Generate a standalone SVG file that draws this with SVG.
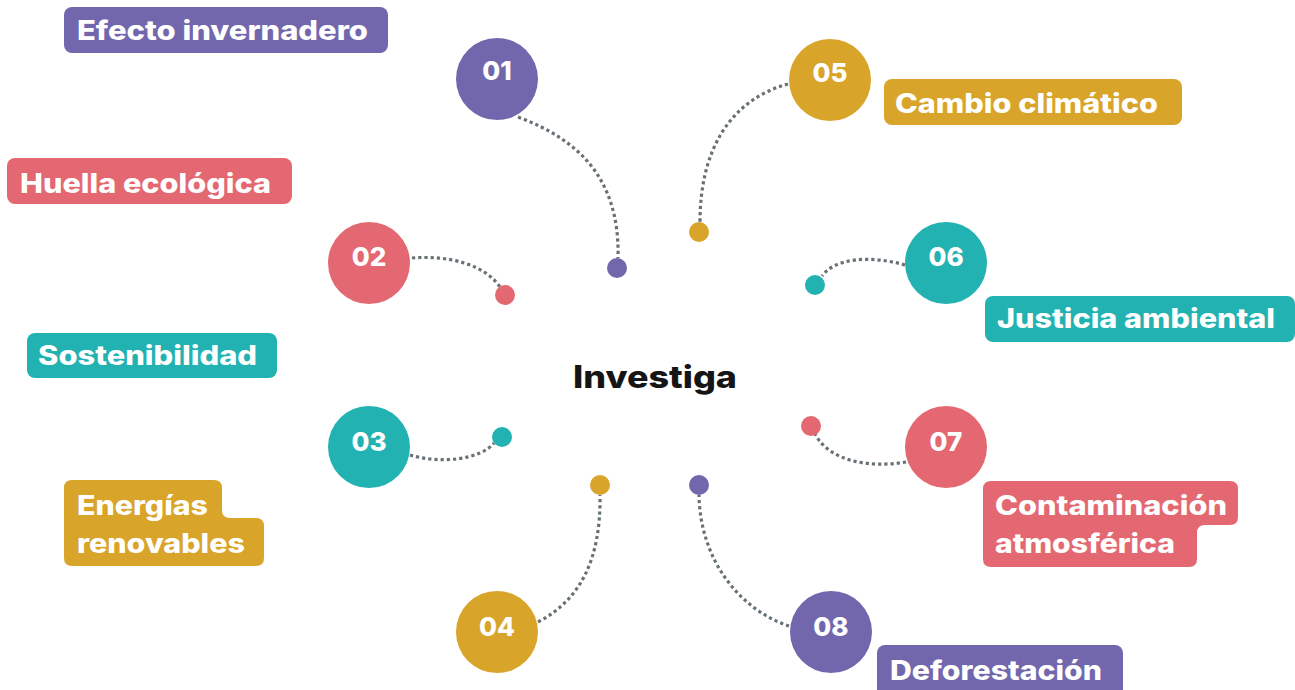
<svg xmlns="http://www.w3.org/2000/svg" width="1295" height="690" viewBox="0 0 1295 690">
<defs>
<style>
.purple{fill:#7267ad}
.red{fill:#e46871}
.teal{fill:#22b2b1}
.gold{fill:#d9a42a}
.lbl{font-family:Inter,"Open Sans","Liberation Sans",sans-serif;font-weight:800;font-size:26.5px;fill:#fff}
.num{font-family:Inter,"Open Sans","Liberation Sans",sans-serif;font-weight:800;font-size:26px;fill:#fff;text-anchor:middle}
.center{font-family:Inter,"Open Sans","Liberation Sans",sans-serif;font-weight:800;font-size:31px;fill:#151515}
.conn{fill:none;stroke:#687276;stroke-width:3.2;stroke-dasharray:3.2 3}
</style>
</defs>
<rect width="1295" height="690" fill="#fff"/>
<g id="connectors">
<path class="conn" d="M518,117 C580,140 620,180 618,258"/>
<path class="conn" d="M788,84 C730,100 700,150 700,222"/>
<path class="conn" d="M412,258 C450,255 485,265 500,287"/>
<path class="conn" d="M410,455 C440,464 480,460 494,443"/>
<path class="conn" d="M905,265 C870,255 835,258 822,276"/>
<path class="conn" d="M906,462 C870,468 830,462 815,434"/>
<path class="conn" d="M538,622 C580,600 601,560 600,495"/>
<path class="conn" d="M789,626 C740,610 700,560 699,495"/>
</g>
<g id="center"><text class="center" x="573" y="388" textLength="164" lengthAdjust="spacingAndGlyphs">Investiga</text></g>
<g id="node01">
<circle class="purple" cx="497" cy="79" r="41"/><text class="num" x="497" y="80">01</text>
<circle class="purple" cx="617" cy="268" r="10"/>
<rect class="purple" x="64" y="7" width="324" height="46" rx="8"/>
<text class="lbl" x="77" y="40" textLength="291" lengthAdjust="spacingAndGlyphs">Efecto invernadero</text>
</g>
<g id="node02">
<circle class="red" cx="369" cy="263" r="41"/><text class="num" x="369" y="266">02</text>
<circle class="red" cx="505" cy="295" r="10"/>
<rect class="red" x="7" y="158" width="285" height="46" rx="8"/>
<text class="lbl" x="20" y="193" textLength="251" lengthAdjust="spacingAndGlyphs">Huella ecológica</text>
</g>
<g id="node03">
<circle class="teal" cx="369" cy="447" r="41"/><text class="num" x="369" y="451">03</text>
<circle class="teal" cx="502" cy="437" r="10"/>
<rect class="teal" x="27" y="333" width="250" height="45" rx="8"/>
<text class="lbl" x="38" y="365" textLength="219" lengthAdjust="spacingAndGlyphs">Sostenibilidad</text>
</g>
<g id="node04">
<circle class="gold" cx="497" cy="632" r="41"/><text class="num" x="497" y="636">04</text>
<circle class="gold" cx="600" cy="485" r="10"/>
<path class="gold" d="M72,480 H214 Q222,480 222,488 V510 Q222,518 230,518 H256 Q264,518 264,526 V558 Q264,566 256,566 H72 Q64,566 64,558 V488 Q64,480 72,480 Z"/>
<text class="lbl" x="77" y="515" textLength="131" lengthAdjust="spacingAndGlyphs">Energías</text>
<text class="lbl" x="77" y="553" textLength="168" lengthAdjust="spacingAndGlyphs">renovables</text>
</g>
<g id="node05">
<circle class="gold" cx="830" cy="80" r="41"/><text class="num" x="830" y="82">05</text>
<circle class="gold" cx="699" cy="232" r="10"/>
<rect class="gold" x="884" y="79" width="298" height="46" rx="8"/>
<text class="lbl" x="895" y="113" textLength="263" lengthAdjust="spacingAndGlyphs">Cambio climático</text>
</g>
<g id="node06">
<circle class="teal" cx="946" cy="263" r="41"/><text class="num" x="946" y="266">06</text>
<circle class="teal" cx="815" cy="285" r="10"/>
<rect class="teal" x="985" y="296" width="310" height="46" rx="8"/>
<text class="lbl" x="997" y="328" textLength="278" lengthAdjust="spacingAndGlyphs">Justicia ambiental</text>
</g>
<g id="node07">
<circle class="red" cx="946" cy="447" r="41"/><text class="num" x="946" y="451">07</text>
<circle class="red" cx="811" cy="426" r="10"/>
<path class="red" d="M991,481 H1230 Q1238,481 1238,489 V517 Q1238,525 1230,525 H1205 Q1197,525 1197,533 V559 Q1197,567 1189,567 H991 Q983,567 983,559 V489 Q983,481 991,481 Z"/>
<text class="lbl" x="995" y="515" textLength="232" lengthAdjust="spacingAndGlyphs">Contaminación</text>
<text class="lbl" x="995" y="553" textLength="180" lengthAdjust="spacingAndGlyphs">atmosférica</text>
</g>
<g id="node08">
<circle class="purple" cx="831" cy="632" r="41"/><text class="num" x="831" y="636">08</text>
<circle class="purple" cx="699" cy="485" r="10"/>
<rect class="purple" x="877" y="645" width="246" height="52" rx="8"/>
<text class="lbl" x="890" y="680" textLength="212" lengthAdjust="spacingAndGlyphs">Deforestación</text>
</g>
</svg>
